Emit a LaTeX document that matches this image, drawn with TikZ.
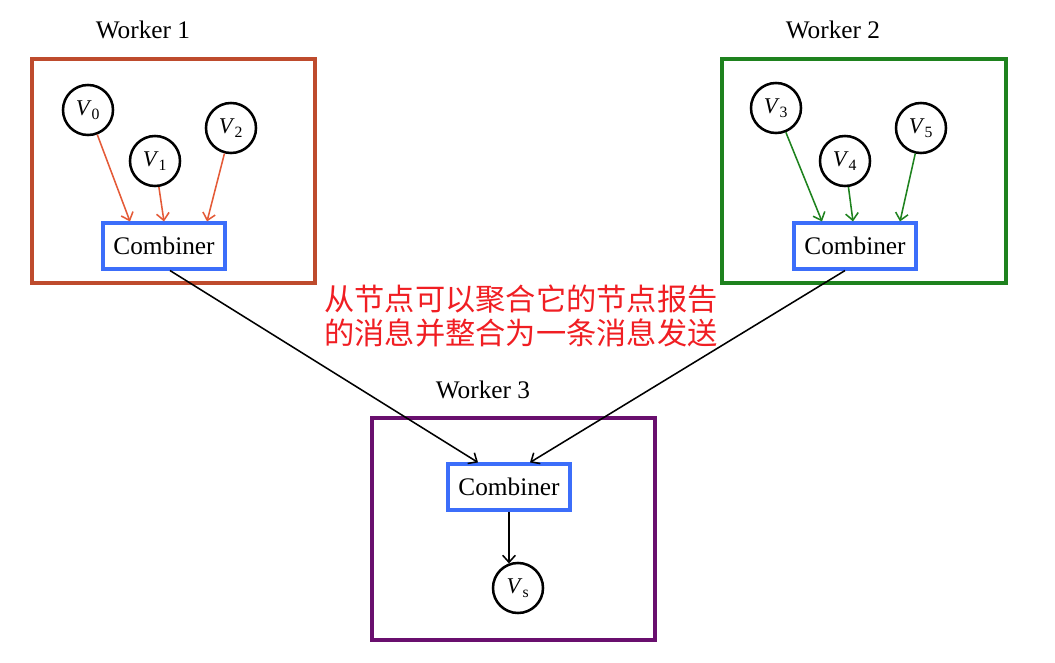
\documentclass[tikz,border=0pt]{standalone}
\usepackage{fontspec}
\setmainfont{Liberation Serif}
\newfontfamily\cjk{Noto Sans CJK SC}
\usetikzlibrary{arrows.meta}
\definecolor{boxred}{RGB}{190,75,45}
\definecolor{arrred}{RGB}{228,90,55}
\definecolor{boxgreen}{RGB}{30,130,30}
\definecolor{boxpurple}{RGB}{105,15,110}
\definecolor{combblue}{RGB}{60,110,250}
\definecolor{notered}{RGB}{240,30,35}
\begin{document}
\begin{tikzpicture}[x=0.025cm,y=-0.025cm,
	vert/.style={circle,draw,line width=1.8pt,minimum size=1.25cm,inner sep=0pt,font=\fontsize{16}{16}\selectfont},
	comb/.style={draw=combblue,line width=2.2pt,minimum width=3.05cm,minimum height=1.15cm,inner sep=0pt,font=\fontsize{18}{18}\selectfont},
	wlabel/.style={font=\fontsize{18}{18}\selectfont},
	msg/.style={-{Straight Barb[length=5pt,width=9pt]},line width=1.1pt}]
	\useasboundingbox (0,0) rectangle (1055,663);
	% the three workers
	\draw[boxred,line width=2.2pt] (32,59) rectangle (315,283);
	\draw[boxgreen,line width=2.2pt] (722,59) rectangle (1006,283);
	\draw[boxpurple,line width=2.2pt] (372,418) rectangle (655,640);
	\node[wlabel] (w1) at (143,30) {Worker 1};
	\node[wlabel] (w2) at (833,30) {Worker 2};
	\node[wlabel] (w3) at (483,390) {Worker 3};
	% vertices
	\node[vert] (v0) at (88,110) {\textit{V}\textsubscript{0}};
	\node[vert] (v1) at (155,161) {\textit{V}\textsubscript{1}};
	\node[vert] (v2) at (231,128) {\textit{V}\textsubscript{2}};
	\node[vert] (v3) at (776,108) {\textit{V}\textsubscript{3}};
	\node[vert] (v4) at (845,161) {\textit{V}\textsubscript{4}};
	\node[vert] (v5) at (921,128) {\textit{V}\textsubscript{5}};
	\node[vert] (vs) at (518,588) {\textit{V}\textsubscript{s}};
	% combiners
	\node[comb] (c1) at (164,246) {Combiner};
	\node[comb] (c2) at (855,246) {Combiner};
	\node[comb] (c3) at (509,487) {Combiner};
	% messages
	\draw[msg,arrred] (v0) -- ([xshift=-0.85cm]c1.north);
	\draw[msg,arrred] (v1) -- (c1.north);
	\draw[msg,arrred] (v2) -- ([xshift=1.075cm]c1.north);
	\draw[msg,boxgreen] (v3) -- ([xshift=-0.825cm]c2.north);
	\draw[msg,boxgreen] (v4) -- ([xshift=-0.05cm]c2.north);
	\draw[msg,boxgreen] (v5) -- ([xshift=1.125cm]c2.north);
	\draw[msg] ([xshift=0.15cm]c1.south) -- ([xshift=-0.775cm]c3.north);
	\draw[msg] ([xshift=-0.25cm]c2.south) -- ([xshift=0.525cm]c3.north);
	\draw[msg] (c3.south) -- (c3.south |- vs.111);
	\node[text=notered,align=center,font=\cjk\fontsize{21.5}{23.5}\selectfont] (note) at (521,316)
		{从节点可以聚合它的节点报告\\的消息并整合为一条消息发送};
\end{tikzpicture}
\end{document}
